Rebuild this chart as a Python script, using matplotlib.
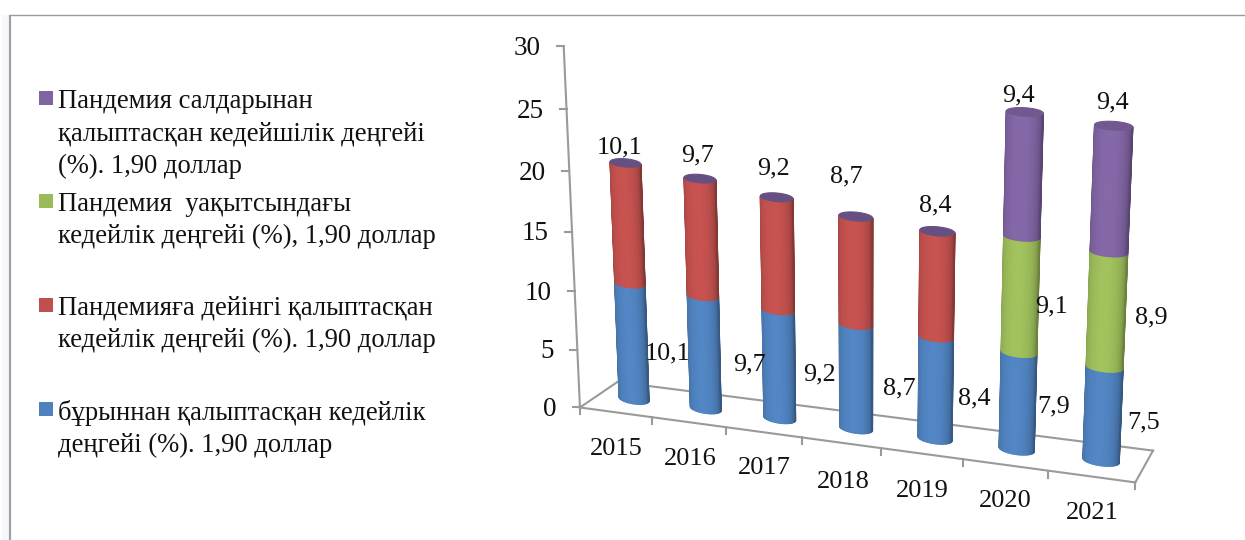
import numpy as np
import matplotlib
matplotlib.use("Agg")
import matplotlib.pyplot as plt
from matplotlib.collections import PolyCollection
from matplotlib.patches import Polygon, Rectangle
from matplotlib.transforms import Transform

# ---- data ----
years = ["2015", "2016", "2017", "2018", "2019", "2020", "2021"]
blue_values = [10.1, 9.7, 9.2, 8.7, 8.4, 7.9, 7.5]
red_values = [10.1, 9.7, 9.2, 8.7, 8.4, 0, 0]
green_values = [0, 0, 0, 0, 0, 9.1, 8.9]
purple_values = [0, 0, 0, 0, 0, 9.4, 9.4]
value_ticks = [0, 5, 10, 15, 20, 25, 30]
legend_labels = [
    "Пандемия салдарынан\nқалыптасқан кедейшілік деңгейі\n(%). 1,90 доллар",
    "Пандемия  уақытсындағы\nкедейлік деңгейі (%), 1,90 доллар",
    "Пандемияға дейінгі қалыптасқан\nкедейлік деңгейі (%). 1,90 доллар",
    "бұрыннан қалыптасқан кедейлік\nдеңгейі (%). 1,90 доллар",
]

# ---- style / layout ----
BLUE, RED, GREEN, PURPLE = "#4F81BD", "#C0504D", "#9BBB59", "#8064A2"
AXIS = "#9a9a9a"
FONT = "Liberation Serif"
plt.rcParams["font.family"] = [FONT, "DejaVu Sans"]
W, H = 1245, 540
DY = 2  # vertical nudge of centred numbers

# Camera calibration: (category, value, depth) -> output pixel
CALIB = [
    ((-.5, 0, 0), (580, 408)), ((6.5, 0, 0), (1135, 482)),
    ((-.5, 0, 1), (617, 382)), ((6.5, 0, 1), (1153, 450)),
    ((-.5, 30, 0), (564, 46)), ((-.5, 25, 0), (566.5, 109)),
    ((-.5, 20, 0), (569, 171)), ((-.5, 10, 0), (574.5, 291)),
    ((0, 0, .5), (634, 398)), ((1, 0, .5), (706, 408)),
    ((2, 0, .5), (780, 419)), ((5, 0, .5), (1017, 450)),
    ((6, 0, .5), (1101, 461)),
    ((0, 20.2, .5), (625.5, 163)), ((1, 19.4, .5), (700.5, 179)),
    ((2, 18.4, .5), (776.5, 198)), ((3, 17.4, .5), (855, 217)),
    ((5, 26.4, .5), (1025, 112)), ((6, 25.8, .5), (1113.5, 125)),
]


def fit_camera(pairs):
    rows = []
    for (a, b, c), (u, v) in pairs:
        X = [a, b, c, 1.0]
        rows.append(X + [0, 0, 0, 0] + [-u * t for t in X])
        rows.append([0, 0, 0, 0] + X + [-v * t for t in X])
    A = np.array(rows, float)
    scale = np.array([100, 10, 100, 1000, 100, 10, 100, 1000, .1, .01, .1, 1.0])
    _, _, vt = np.linalg.svd(A / scale)
    return (vt[-1] / scale).reshape(3, 4)


CAM = fit_camera(CALIB)


def project(pts, plane=0.5):
    pts = np.asarray(pts, float).reshape(-1, 2)
    X = np.c_[pts, np.full(len(pts), plane), np.ones(len(pts))]
    q = X @ CAM.T
    return q[:, :2] / q[:, 2:3]


class Camera(Transform):
    input_dims = output_dims = 2
    is_affine = False
    has_inverse = False

    def __init__(self, plane):
        super().__init__()
        self.plane = plane

    def transform_non_affine(self, values):
        return project(values, self.plane)


fig = plt.figure(figsize=(W / 100, H / 100), dpi=100, facecolor="white")
ax = fig.add_axes([0, 0, 1, 1])
ax.set_xlim(0, W)
ax.set_ylim(H, 0)
ax.axis("off")

# page frame
ax.add_patch(Rectangle((2, 15), 7, H - 15, fc="#f6f8fb", ec="none", zorder=0))
ax.plot([10, 10], [15, H], color="#a0a0a0", lw=1.6, zorder=1, solid_capstyle="butt")
ax.plot([10, W], [15, 15], color="#9a9a9a", lw=1.0, zorder=1)

# ---- floor and axes ----
front = Camera(0) + ax.transData
back = Camera(1) + ax.transData
n = len(years)
lo, hi = -0.5, n - 0.5
LW = 1.5
ax.plot([lo, hi], [0, 0], color=AXIS, lw=LW, transform=front, zorder=2)
ax.plot([lo, hi], [0, 0], color=AXIS, lw=LW, transform=back, zorder=2)
for end in (lo, hi):
    a, b = project([[end, 0]], 0)[0], project([[end, 0]], 1)[0]
    ax.plot([a[0], b[0]], [a[1], b[1]], color=AXIS, lw=LW, zorder=2)
ax.plot([lo, lo], [0, 30], color=AXIS, lw=LW, transform=front, zorder=2)

for t in value_ticks:
    px, py = project([[lo, t]], 0)[0]
    ax.plot([px - 7, px], [py, py], color=AXIS, lw=LW, zorder=2)
    ax.text(px - 23, py + DY, str(t), ha="right", va="center", fontsize=19.5, color="#111111")

YEAR_POS = [(616, 447), (690, 457), (764, 466), (843, 480), (922, 489), (1005, 499), (1092, 511)]
for k, yr in enumerate(years):
    px, py = project([[k - 0.5, 0]], 0)[0]
    ax.plot([px, px], [py, py + 7], color=AXIS, lw=LW, zorder=2)
    ax.text(YEAR_POS[k][0], YEAR_POS[k][1] + DY, yr, ha="center", va="center",
            fontsize=19, color="#111111")
px, py = project([[hi, 0]], 0)[0]
ax.plot([px, px], [py, py + 7], color=AXIS, lw=LW, zorder=2)

# ---- cylinders ----
mid = Camera(0.5) + ax.transData
R, E0, E1 = 0.21, 0.42, 0.30
theta = np.linspace(-np.pi / 2, np.pi / 2, 37)


def shade(color, a):
    f = 0.84 + 0.20 * np.cos(a + 0.1) - 0.12 * np.clip(a, 0, None) ** 2 / 2
    rgb = np.array(matplotlib.colors.to_rgb(color))
    return tuple(np.clip(rgb * f, 0, 1))


def ell(v):
    return E0 + (E1 - E0) * v / 30


def side(i, v0, v1, color):
    verts, cols = [], []
    for a, b in zip(theta[:-1], theta[1:]):
        verts.append([
            (i + R * np.sin(a), v0 - ell(v0) * np.cos(a)),
            (i + R * np.sin(b), v0 - ell(v0) * np.cos(b)),
            (i + R * np.sin(b), v1 - ell(v1) * np.cos(b)),
            (i + R * np.sin(a), v1 - ell(v1) * np.cos(a)),
        ])
        cols.append(shade(color, (a + b) / 2))
    pc = PolyCollection(verts, facecolors=cols, edgecolors=cols, linewidths=1.0,
                        transform=mid, zorder=3, antialiaseds=True)
    pc.set_snap(False)
    ax.add_collection(pc, autolim=False)


series = [(blue_values, BLUE), (red_values, RED), (green_values, GREEN), (purple_values, PURPLE)]
for i in range(n):
    base = 0.0
    for vals, col in series:
        if vals[i] > 0:
            side(i, base, base + vals[i], col)
            base += vals[i]
    ang = np.linspace(0, 2 * np.pi, 73)
    cap = np.c_[i + R * np.sin(ang), base + ell(base) * np.cos(ang)]
    capcol = tuple(np.array(matplotlib.colors.to_rgb(PURPLE)) * (0.88 if purple_values[i] else 0.8))
    pg = Polygon(cap, closed=True, fc=capcol, ec=capcol, lw=0.8, transform=mid, zorder=4)
    pg.set_snap(False)
    ax.add_patch(pg)

# ---- data labels ----
fmt = lambda v: f"{v:.1f}".replace(".", ",")
LABEL_FS = 18.8
BLUE_POS = [(668, 351), (749, 362), (819, 372), (899, 386), (974, 396), (1054, 404), (1144, 420)]
RED_POS = [(620, 145), (698, 153), (773, 166), (846, 174), (935, 203)]
GREEN_POS = [(1051, 304), (1151, 315)]
PURPLE_POS = [(1018, 93), (1112, 100)]
for vals, posns in ((blue_values, BLUE_POS), (red_values[:5], RED_POS),
                    (green_values[5:], GREEN_POS), (purple_values[5:], PURPLE_POS)):
    for v, p in zip(vals, posns):
        ax.text(p[0], p[1] + DY, fmt(v), ha="center", va="center", fontsize=LABEL_FS,
                color="#111111", zorder=5)

# ---- legend ----
LEG_Y = [91, 194, 298, 402]
for lab, col, y in zip(legend_labels, [PURPLE, GREEN, RED, BLUE], LEG_Y):
    ax.add_patch(Rectangle((39, y), 14, 14, fc=col, ec="none", zorder=3))
    ax.text(58, y - 2, lab, ha="left", va="top", fontsize=19.2, linespacing=1.38, color="#111111")

fig.savefig("out.png", dpi=100, facecolor="white")
